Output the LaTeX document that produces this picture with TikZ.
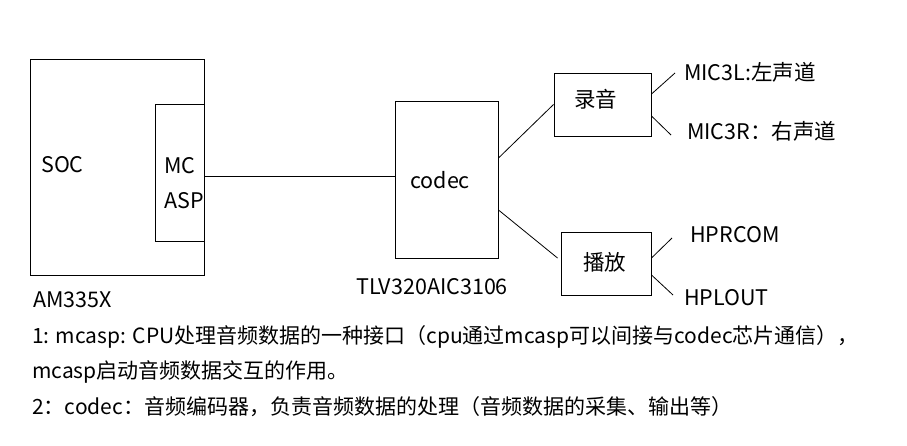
\documentclass[tikz,border=0pt]{standalone}
\usepackage{fontspec}
\setmainfont{Noto Sans CJK SC}
\usetikzlibrary{positioning}

\begin{document}
\begin{tikzpicture}[x=1pt,y=-1pt,
    box/.style={draw,line width=1pt,inner sep=0pt},
    lbl/.style={anchor=west,inner sep=0pt,font=\fontsize{21.5}{24}\selectfont},
    note/.style={anchor=west,inner sep=0pt,font=\fontsize{21}{24}\selectfont},
    wire/.style={line width=0.8pt}]
  \useasboundingbox (0,0) rectangle (907,445);
  % boxes
  \node[box,minimum width=174pt,minimum height=216pt] (soc) at (117,167) {};
  \node[box,minimum width=49pt,minimum height=137pt] (mcasp) at (179.5,172.5) {};
  \node[box,minimum width=103pt,minimum height=157pt] (codec) at (446.5,179.5) {};
  \node[box,minimum width=97pt,minimum height=63pt] (rec) at (602.5,104.5) {};
  \node[box,minimum width=90pt,minimum height=63pt] (play) at (606,263.5) {};
  % texts in boxes
  \node[lbl] (soctxt) at (41,165) {SOC};
  \node[lbl] (mctxt) at (164,166) {MC};
  \node[lbl] (asptxt) at (164,201) {ASP};
  \node[lbl] (codectxt) at (410,180) {codec};
  \node[lbl] (rectxt) at (574,99) {录音};
  \node[lbl] (playtxt) at (583,262) {播放};
  \node[lbl] (am) at (33,300) {AM335X};
  \node[lbl] (tlv) at (356,287) {TLV320AIC3106};
  % outputs
  \node[lbl] (micl) at (684,72) {MIC3L:左声道};
  \node[lbl] (micr) at (687,131) {MIC3R：右声道};
  \node[lbl] (hpr) at (690,235) {HPRCOM};
  \node[lbl] (hpl) at (684,298) {HPLOUT};
  \coordinate (ml) at (675,73);
  \coordinate (mr) at (671,135);
  \coordinate (hr) at (672,238);
  \coordinate (hl) at (673,295);
  % connectors
  \draw[wire] (mcasp.east |- 0,176) -- (codec.west |- 0,176);
  \draw[wire] (codec.east |- 0,158) -- (rec.west);
  \draw[wire] (codec.east |- 0,210) -- ([xshift=-3pt,yshift=5.5pt]play.west);
  \draw[wire] (rec.east |- 0,94) -- (ml);
  \draw[wire] (rec.east |- 0,116) -- (mr);
  \draw[wire] (play.east |- 0,258) -- (hr);
  \draw[wire] (play.east |- 0,275) -- (hl);
  % notes
  \node[note] (n1) at (32,337) {1: mcasp: CPU处理音频数据的一种接口（cpu通过mcasp可以间接与codec芯片通信），};
  \node[note] (n2) at (32,372) {mcasp启动音频数据交互的作用。};
  \node[note] (n3) at (32,407) {2：codec：音频编码器，负责音频数据的处理（音频数据的采集、输出等）};
\end{tikzpicture}
\end{document}
